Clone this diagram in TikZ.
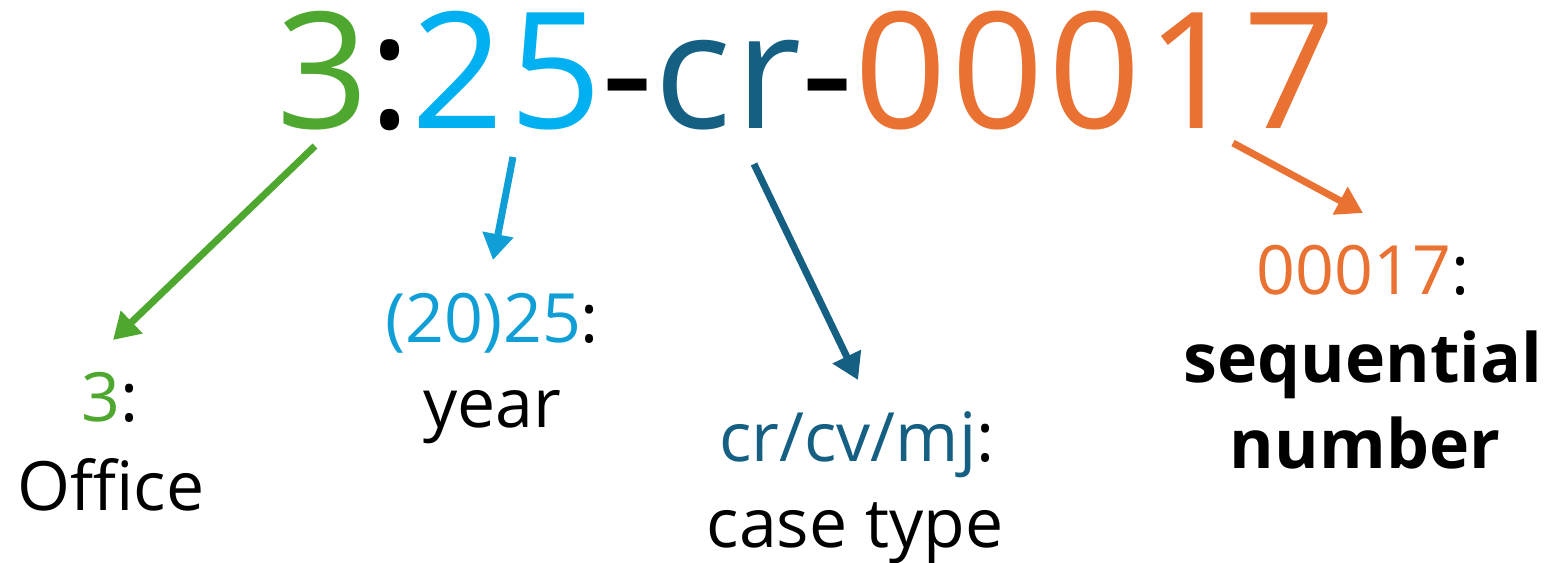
\documentclass[tikz,border=0pt]{standalone}
\usepackage{fontspec}
\setmainfont{Open Sans}
\usetikzlibrary{arrows.meta}
\definecolor{cgreen}{HTML}{4EA72E}
\definecolor{ccyan}{HTML}{00B0F0}
\definecolor{cblue}{HTML}{0F9ED5}
\definecolor{cdark}{HTML}{156082}
\definecolor{corange}{HTML}{E97132}
\tikzset{
  big/.style={inner sep=0pt, anchor=base west, font=\fontsize{162}{162}\selectfont\addfontfeature{LetterSpace=2.9}},
  lbl/.style={inner sep=0pt, anchor=base, font=\fontsize{68}{87}\selectfont},
  blbl/.style={inner sep=0pt, anchor=base, font=\fontsize{68}{87}\selectfont\bfseries},
  arr/.style={line width=7pt, -{Triangle[length=26pt,width=30pt]}},
}
\begin{document}
\begin{tikzpicture}[x=1pt,y=-1pt]
\useasboundingbox (0,0) rectangle (1554,562);
\node[big] (code) at (276,128) {\textcolor{cgreen}{3}:\textcolor{ccyan}{25}-\textcolor{cdark}{cr}-\textcolor{corange}{00017}};
% labels
\node[lbl] (l3) at (110,421) {\textcolor{cgreen}{3}:};
\node[lbl] (office) at (111,510) {Office};
\node[lbl] (l25) at (492,342) {\textcolor{cblue}{(20)25}:};
\node[lbl] (year) at (492,427) {year};
\node[lbl] (lcr) at (857,461) {\textcolor{cdark}{cr/cv/mj}:};
\node[lbl] (ctype) at (855,547) {case type};
\node[lbl] (l17) at (1363,294) {\textcolor{corange}{00017}:};
\node[blbl] (seq) at (1363,382) {sequential};
\node[blbl] (num) at (1365,468) {number};
% arrow endpoints
\coordinate (a1s) at (315,146);
\coordinate (a1e) at (113,340);
\coordinate (a2s) at (513,157);
\coordinate (a2e) at (493,260);
\coordinate (a3s) at (754,164);
\coordinate (a3e) at (858,380);
\coordinate (a4s) at (1233,143);
\coordinate (a4e) at (1363,213);
\draw[arr, cgreen] (a1s) -- (a1e);
\draw[arr, cblue] (a2s) -- (a2e);
\draw[arr, cdark] (a3s) -- (a3e);
\draw[arr, corange] (a4s) -- (a4e);
\end{tikzpicture}
\end{document}
